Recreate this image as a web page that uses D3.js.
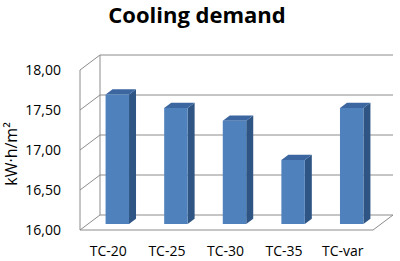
<!DOCTYPE html>
<html>
<head>
<meta charset="utf-8">
<script src="https://cdn.jsdelivr.net/npm/d3@7"></script>
<style>
  body { margin: 0; background: #fff; }
  text { font-family: "Open Sans", "DejaVu Sans", sans-serif; }
</style>
</head>
<body>
<svg id="chart" width="400" height="261"></svg>
<script>
const categories = ["TC-20", "TC-25", "TC-30", "TC-35", "TC-var"];
const coolingDemand = [17.62, 17.45, 17.29, 16.80, 17.45];
const yTicks = [16.0, 16.5, 17.0, 17.5, 18.0];

const svg = d3.select("#chart");

// front plane of the 3D box
const plotLeft = 80, plotRight = 373, plotBottom = 230, plotTop = 70;
// depth offset of the back wall
const depthX = 20, depthY = -15;

const x = d3.scaleBand().domain(categories).range([plotLeft, plotRight]).paddingInner(0.6).paddingOuter(0.3);
const y = d3.scaleLinear().domain([16, 18]).range([plotBottom, plotTop]);

// project a (xpx, ypx) on front plane at depth fraction f
const p = (px, py, f) => [px + depthX * f, py + depthY * f];
const fmt = d => d.toFixed(2).replace(".", ",");

const gridColor = "#8c8c8c";

// back wall gridlines + left wall slants
const grid = svg.append("g").attr("fill", "none").attr("stroke", gridColor).attr("stroke-width", 1);
yTicks.forEach(t => {
  const a = p(plotLeft, y(t), 0), b = p(plotLeft, y(t), 1), c = p(plotRight, y(t), 1);
  grid.append("path").attr("d", d3.line()([a, b, c]));
});
// left wall verticals
grid.append("line").attr("x1", plotLeft).attr("x2", plotLeft).attr("y1", y(18)).attr("y2", y(16));
const bl = p(plotLeft, y(16), 1), tl = p(plotLeft, y(18), 1);
grid.append("line").attr("x1", bl[0]).attr("x2", tl[0]).attr("y1", bl[1]).attr("y2", tl[1]);
// floor front + right edge
grid.append("path").attr("d", d3.line()([p(plotLeft, y(16), 0), p(plotRight, y(16), 0), p(plotRight, y(16), 1)]));

// bars
const f0 = 0.4, f1 = 0.75;
const front = "#4f81bd", side = "#2f5584", topC = "#3c66a0";
const bars = svg.append("g");
categories.forEach((c, i) => {
  const x0 = x(c), x1 = x(c) + x.bandwidth();
  const yb = y(16), yt = y(coolingDemand[i]);
  const A = p(x0, yt, f0), B = p(x1, yt, f0), C = p(x1, yb, f0), D = p(x0, yb, f0);
  const B2 = p(x1, yt, f1), C2 = p(x1, yb, f1), A2 = p(x0, yt, f1);
  bars.append("path").attr("d", d3.line()([B, B2, C2, C]) + "Z").attr("fill", side);
  bars.append("path").attr("d", d3.line()([A, A2, B2, B]) + "Z").attr("fill", topC);
  bars.append("path").attr("d", d3.line()([A, B, C, D]) + "Z").attr("fill", front);
});

// y tick labels
svg.append("g").selectAll("text").data(yTicks).join("text")
  .attr("x", plotLeft - 19).attr("y", d => y(d) + 5)
  .attr("text-anchor", "end").attr("font-size", 14).attr("fill", "#000")
  .text(fmt);

// category labels
svg.append("g").selectAll("text").data(categories).join("text")
  .attr("x", d => x(d) + x.bandwidth() / 2 - 1).attr("y", 256)
  .attr("text-anchor", "middle").attr("font-size", 14).attr("fill", "#000")
  .text(d => d);

// axis title
svg.append("text")
  .attr("transform", "translate(17,154) rotate(-90)")
  .attr("text-anchor", "middle").attr("font-size", 16)
  .text("kW·h/m²");

// chart title
svg.append("text")
  .attr("x", 197).attr("y", 23)
  .attr("text-anchor", "middle").attr("font-size", 22).attr("font-weight", "bold")
  .text("Cooling demand");
</script>
</body>
</html>
